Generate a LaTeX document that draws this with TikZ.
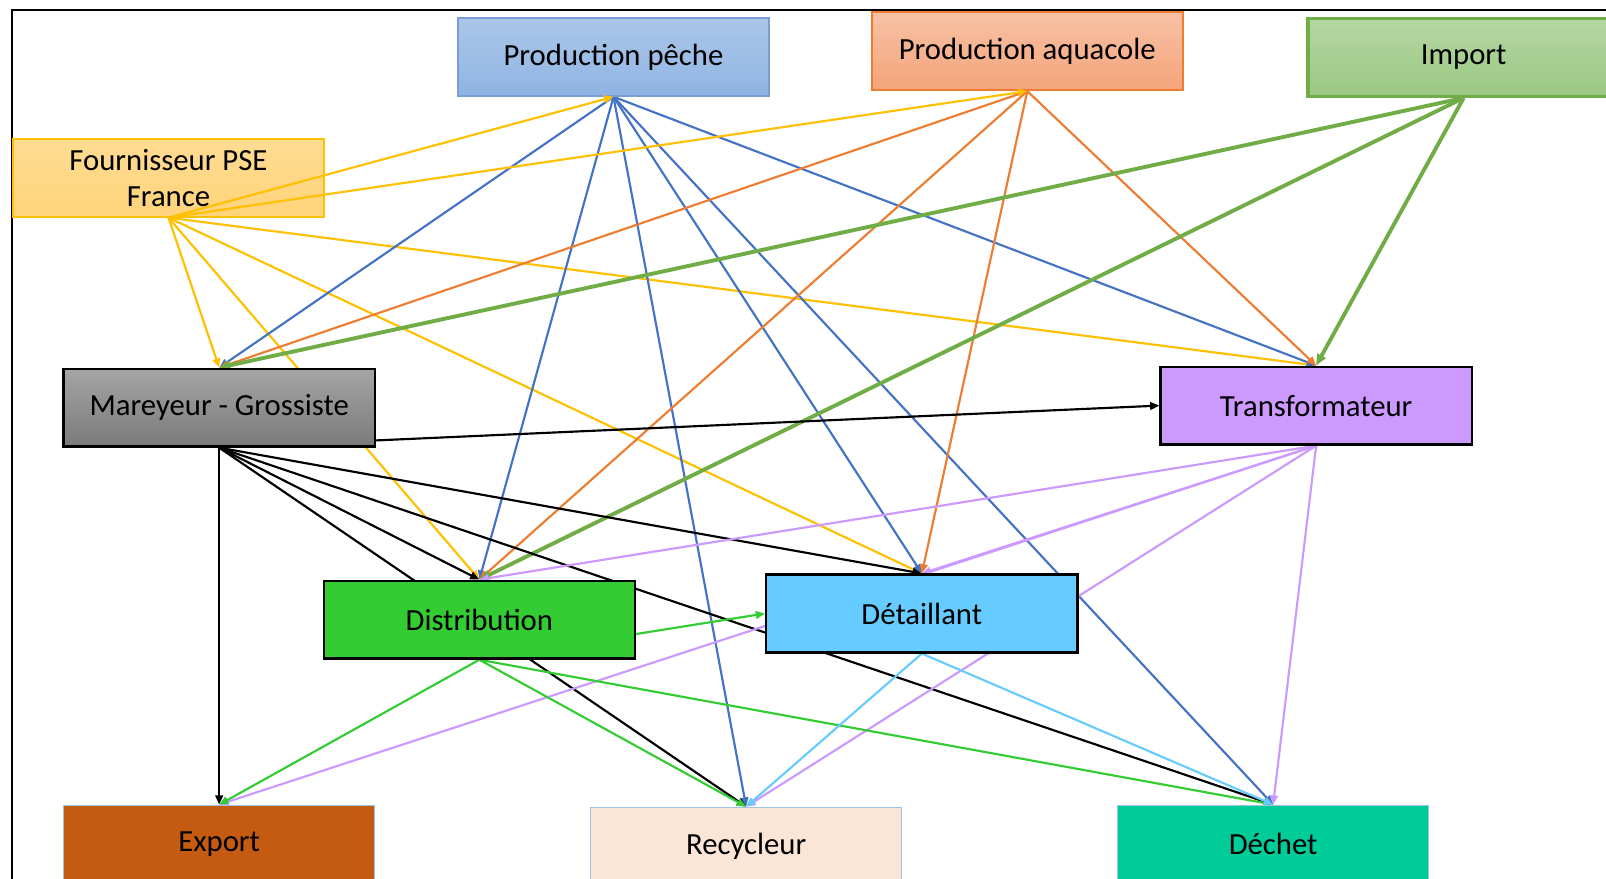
\documentclass[tikz,border=0pt]{standalone}
\usepackage{fontspec}
\setmainfont{Carlito}
\usetikzlibrary{arrows.meta,backgrounds,calc}
\definecolor{cblue}{HTML}{4472C4}
\definecolor{corange}{HTML}{ED7D31}
\definecolor{cyellow}{HTML}{FFC000}
\definecolor{cgreen}{HTML}{70AD47}
\definecolor{cpurple}{HTML}{CC99FF}
\definecolor{cdgreen}{HTML}{33CC33}
\definecolor{clblue}{HTML}{66CCFF}
\definecolor{lbord}{HTML}{9DC3E6}
\begin{document}
\begin{tikzpicture}[x=1pt,y=-1pt,
  box/.style={minimum width=304pt, minimum height=76pt, inner sep=0pt,
    font=\fontsize{30}{35}\selectfont, align=center},
  darkbox/.style={box, draw=black, line width=2.2pt},
  lightbox/.style={box, draw=lbord, line width=0.9pt},
  arr/.style={-{Triangle[length=9pt,width=7.5pt]}, line width=2.1pt},
  eblue/.style={arr, draw=cblue, fill=cblue},
  eorange/.style={arr, draw=corange, fill=corange},
  eyellow/.style={arr, draw=cyellow, fill=cyellow},
  egreen/.style={-{Triangle[length=11pt,width=9pt]}, line width=3.8pt, draw=cgreen, fill=cgreen},
  eblack/.style={arr, draw=black, fill=black},
  epurple/.style={arr, draw=cpurple, fill=cpurple},
  edgreen/.style={arr, draw=cdgreen, fill=cdgreen},
  elblue/.style={arr, draw=clblue, fill=clblue}]
\useasboundingbox (0,0) rectangle (1568,858);
\clip (0,0) rectangle (1568,858);
\draw[line width=1.6pt] (12,900) -- (12,10) -- (1600,10);
% nodes
\node[box, draw=cblue!70!white, line width=2pt, top color={rgb,255:red,171;green,199;blue,233}, bottom color={rgb,255:red,143;green,180;blue,227}] (pe) at (599,55.5) {Production pêche};
\node[box, draw=corange, line width=2pt, top color={rgb,255:red,248;green,193;blue,165}, bottom color={rgb,255:red,244;green,164;blue,122}] (aq) at (1003,50) {Production aquacole};
\node[box, draw=cgreen, line width=3.2pt, top color={rgb,255:red,180;green,214;blue,164}, bottom color={rgb,255:red,155;green,200;blue,130}] (im) at (1429,56) {Import};
\node[box, draw=cyellow, line width=2pt, top color={rgb,255:red,255;green,220;blue,147}, bottom color={rgb,255:red,255;green,211;blue,122}] (fo) at (164.5,173.5) {Fournisseur PSE\\France};
\node[darkbox, top color={rgb,255:red,165;green,165;blue,165}, bottom color={rgb,255:red,122;green,122;blue,122}] (ma) at (214,398) {Mareyeur - Grossiste};
\node[darkbox, fill=cpurple] (tr) at (1285,396) {Transformateur};
\node[darkbox, fill=cdgreen] (di) at (468,605) {Distribution};
\node[darkbox, fill=clblue] (de) at (900,599) {Détaillant};
\node[lightbox, fill={rgb,255:red,197;green,90;blue,17}] (ex) at (214,824) {Export};
\node[lightbox, fill={rgb,255:red,251;green,229;blue,214}] (re) at (728.5,826) {Recycleur};
\node[lightbox, fill={rgb,255:red,0;green,204;blue,153}] (dc) at (1243,824) {Déchet};
% connectors drawn over the Fournisseur box
\draw[eyellow] (fo.south) -- (pe.south);
\draw[eyellow] (fo.south) -- (aq.south);
% connectors behind the boxes
\begin{scope}[on background layer]
\draw[eyellow] (fo.south) -- (ma.north);
\draw[eyellow] (fo.south) -- (di.north);
\draw[eyellow] (fo.south) -- (de.north);
\draw[eyellow] (fo.south) -- (tr.north);
\draw[eblue] (pe.south) -- (ma.north);
\draw[eblue] (pe.south) -- (di.north);
\draw[eblue] (pe.south) -- (re.north);
\draw[eblue] (pe.south) -- (de.north);
\draw[eblue] (pe.south) -- (dc.north);
\draw[eblue] (pe.south) -- (tr.north);
\draw[eorange] (aq.south) -- (ma.north);
\draw[eorange] (aq.south) -- (di.north);
\draw[eorange] (aq.south) -- (de.north);
\draw[eorange] (aq.south) -- (tr.north);
\draw[egreen] (im.south) -- (ma.north);
\draw[egreen] (im.south) -- (di.north);
\draw[egreen] (im.south) -- (tr.north);
\draw[eblack] (ma.south) -- (ex.north);
\draw[eblack] (ma.south) -- (di.north);
\draw[eblack] (ma.south) -- (de.north);
\draw[eblack] (ma.south) -- (re.north);
\draw[eblack] (ma.south) -- (dc.north);
\draw[eblack] ($(ma.east)+(0,32)$) -- (tr.west);
\draw[epurple] (tr.south) -- (di.north);
\draw[epurple] (tr.south) -- (de.north);
\draw[epurple] (tr.south) -- (ex.north);
\draw[epurple] (tr.south) -- (re.north);
\draw[epurple] (tr.south) -- (dc.north);
\draw[edgreen] (di.south) -- (ex.north);
\draw[edgreen] (di.south) -- (re.north);
\draw[edgreen] (di.south) -- (dc.north);
\draw[edgreen] ($(di.east)+(0,14)$) -- (de.west);
\draw[elblue] (de.south) -- (re.north);
\draw[elblue] (de.south) -- (dc.north);
\end{scope}
\end{tikzpicture}
\end{document}
